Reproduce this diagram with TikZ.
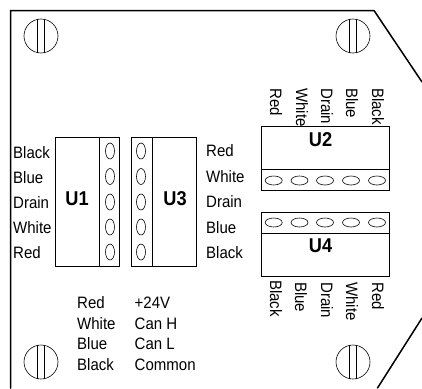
\documentclass[tikz,border=0pt]{standalone}
\usepackage{fontspec}
\setmainfont[FakeStretch=0.91]{Liberation Sans}
\tikzset{
  frameline/.style={line width=1.5pt,line cap=round,line join=miter},
  thin box/.style={draw,line width=0.9pt},
  lbl/.style={inner sep=0pt,font=\fontsize{16.5}{16.5}\selectfont,anchor=base west},
  vlbl/.style={inner sep=0pt,font=\fontsize{16.5}{16.5}\selectfont,rotate=-90},
  ulbl/.style={inner sep=0pt,font=\fontsize{20}{20}\selectfont\bfseries},
}
\newcommand{\screw}[2]{%
  \draw[line width=0.6pt] (#1,#2) circle (17);
  \draw[line width=0.7pt] (#1-3.3,#2-17) -- (#1-3.3,#2+17) (#1+3.3,#2-17) -- (#1+3.3,#2+17);
}
\begin{document}
\begin{tikzpicture}[x=1pt,y=-1pt]
\useasboundingbox (0,0) rectangle (422,388);
\draw[frameline] (10.5,388) -- (10.5,10.5) -- (374,10.5) -- (422,82);
\draw[frameline] (422,318) -- (377.5,388);
\screw{41}{36}\screw{353}{36}\screw{41}{362}\screw{353}{362}
% U1
\node[thin box,minimum width=64pt,minimum height=129pt,inner sep=0pt] (u1) at (87.5,201.5) {};
\draw[line width=0.9pt] (99,137) -- (99,266);
\node[ulbl] (u1t) at (77,199) {U1};
\foreach \y in {151,176.5,202,227,252} \draw[line width=0.6pt] (110,\y) ellipse (4.5 and 8);
% U3
\node[thin box,minimum width=64.5pt,minimum height=129pt,inner sep=0pt] (u3) at (163.75,201.5) {};
\draw[line width=0.9pt] (152.5,137) -- (152.5,266);
\node[ulbl] (u3t) at (175,199) {U3};
\foreach \y in {151,176.5,202,227,252} \draw[line width=0.6pt] (141,\y) ellipse (4.5 and 8);
% U2
\node[thin box,minimum width=128pt,minimum height=64pt,inner sep=0pt] (u2) at (325,158.5) {};
\draw[line width=0.9pt] (261,169.5) -- (389,169.5);
\node[ulbl] (u2t) at (320.5,140) {U2};
\foreach \x in {273.7,299.5,325,351,377} \draw[line width=0.6pt] (\x,180.5) ellipse (8.5 and 4.5);
% U4
\node[thin box,minimum width=128pt,minimum height=63.5pt,inner sep=0pt] (u4) at (325,244.25) {};
\draw[line width=0.9pt] (261,233) -- (389,233);
\node[ulbl] (u4t) at (320.5,246) {U4};
\foreach \x in {273.7,299.5,325,351,377} \draw[line width=0.6pt] (\x,222.5) ellipse (8.5 and 4.5);
% left labels
\node[lbl] (a1) at (13,158) {Black};
\node[lbl] (a2) at (13,183) {Blue};
\node[lbl] (a3) at (13,208.5) {Drain};
\node[lbl] (a4) at (13,233.5) {White};
\node[lbl] (a5) at (13,258.5) {Red};
\node[lbl] (b1) at (206,156) {Red};
\node[lbl] (b2) at (206,182) {White};
\node[lbl] (b3) at (206,207.5) {Drain};
\node[lbl] (b4) at (206,233) {Blue};
\node[lbl] (b5) at (206,258.5) {Black};
% legend
\node[lbl] (c1) at (77,308.5) {Red};
\node[lbl] (c2) at (77,329) {White};
\node[lbl] (c3) at (77,349.5) {Blue};
\node[lbl] (c4) at (77,370) {Black};
\node[lbl] (d1) at (134.5,308.5) {+24V};
\node[lbl] (d2) at (134.5,329) {Can H};
\node[lbl] (d3) at (134.5,349.5) {Can L};
\node[lbl] (d4) at (134.5,370) {Common};
% top vertical
\node[vlbl,anchor=base west] (e1) at (270,88) {Red};
\node[vlbl,anchor=base west] (e2) at (296,88) {White};
\node[vlbl,anchor=base west] (e3) at (321,88) {Drain};
\node[vlbl,anchor=base west] (e4) at (346,88) {Blue};
\node[vlbl,anchor=base west] (e5) at (372,88) {Black};
% bottom vertical
\node[vlbl,anchor=base west] (f1) at (270,280) {Black};
\node[vlbl,anchor=base west] (f2) at (295,282) {Blue};
\node[vlbl,anchor=base west] (f3) at (321,282) {Drain};
\node[vlbl,anchor=base west] (f4) at (346,282) {White};
\node[vlbl,anchor=base west] (f5) at (372,282) {Red};
\end{tikzpicture}
\end{document}
